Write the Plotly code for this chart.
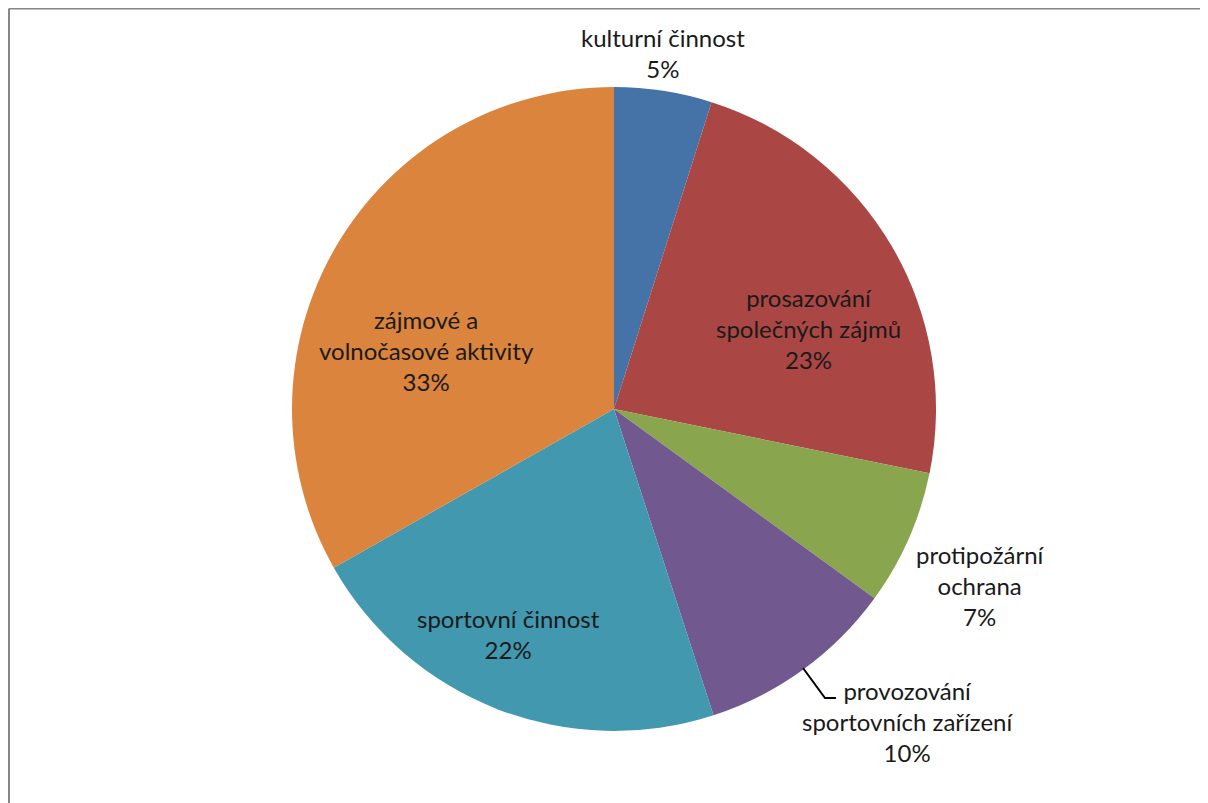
import plotly.graph_objects as go

# slice data, clockwise from 12 o'clock
labels = ["kulturní činnost", "prosazování společných zájmů", "protipožární ochrana",
          "provozování sportovních zařízení", "sportovní činnost", "zájmové a volnočasové aktivity"]
label_lines = ["kulturní činnost", "prosazování<br>společných zájmů", "protipožární<br>ochrana",
               "provozování<br>sportovních zařízení", "sportovní činnost", "zájmové a<br>volnočasové aktivity"]
values = [4.9, 23.3, 6.8, 10.0, 21.8, 33.2]
colors = ["#4572A7", "#AA4643", "#89A54E", "#71588F", "#4198AF", "#DB843D"]

# the page body adds an 8px margin, so the figure is a bit smaller than the window
OFF = 8
W, H = 1200, 795
FONT = "Lato"

# label block centres in screen pixels
label_pos = [(663, 53), (808, 328), (980, 585), (907, 721), (508, 634), (426, 350)]


def px(x, y):
    return (x - OFF) / W, 1 - (y - OFF) / H


pie_x0, pie_y1 = px(292, 87)
pie_x1, pie_y0 = px(936, 731)

fig = go.Figure(go.Pie(
    labels=labels,
    values=values,
    sort=False,
    direction="clockwise",
    rotation=0,
    marker=dict(colors=colors, line=dict(width=0)),
    textinfo="none",
    hoverinfo="label+percent",
    domain=dict(x=[pie_x0, pie_x1], y=[pie_y0, pie_y1]),
    showlegend=False,
))

total = sum(values)
for name, v, (x, y) in zip(label_lines, values, label_pos):
    ax, ay = px(x, y)
    fig.add_annotation(
        x=ax, y=ay, xref="paper", yref="paper",
        xanchor="center", yanchor="middle",
        text=f"{name}<br>{round(v / total * 100)}%",
        showarrow=False, align="center",
        font=dict(family=FONT, size=24, color="#1a1a1a"),
    )

# leader line for the small purple slice
x0, y0 = px(803, 668)
x1, y1 = px(825, 698)
x2, y2 = px(836, 698)
fig.add_shape(type="path", xref="paper", yref="paper",
              path=f"M {x0},{y0} L {x1},{y1} L {x2},{y2}",
              line=dict(color="#000000", width=2))

# chart area border (top and left visible)
bx, by = 1 / W, 1 - 0.5 / H
fig.add_shape(type="line", xref="paper", yref="paper", x0=bx, y0=by, x1=1.0, y1=by,
              line=dict(color="#868686", width=2))
fig.add_shape(type="line", xref="paper", yref="paper", x0=bx, y0=by, x1=bx, y1=0,
              line=dict(color="#868686", width=2))

fig.update_layout(
    width=W, height=H,
    margin=dict(l=0, r=0, t=0, b=0),
    paper_bgcolor="white",
    plot_bgcolor="white",
    font=dict(family=FONT),
)

fig.write_html("out.html")
